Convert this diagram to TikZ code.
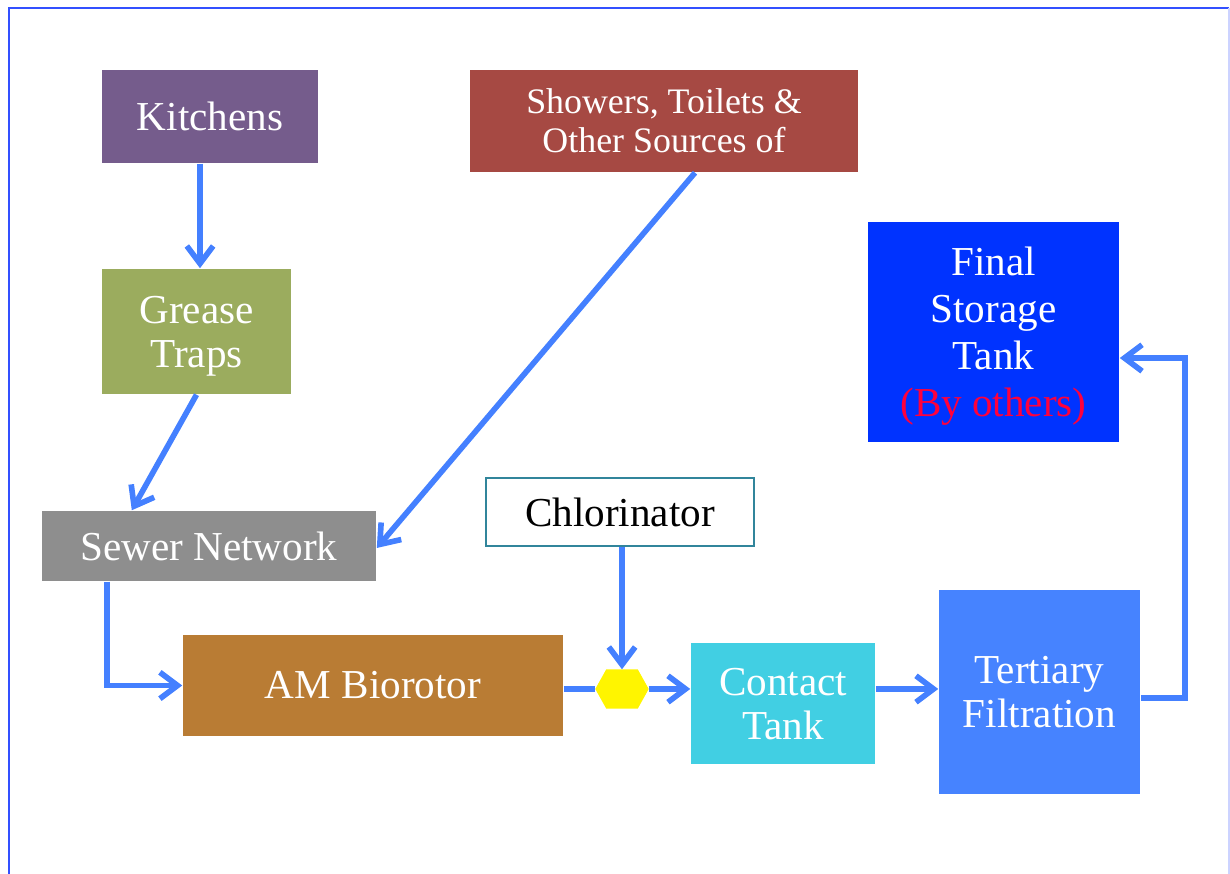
\documentclass[tikz,border=0pt]{standalone}
\usepackage{fontspec}
\setmainfont{Liberation Serif}
\definecolor{kitchenpurple}{RGB}{117, 92, 140}
\definecolor{greasegreen}{RGB}{155, 172, 94}
\definecolor{showerred}{RGB}{166, 73, 67}
\definecolor{storageblue}{RGB}{0, 51, 255}
\definecolor{sewergray}{RGB}{142, 142, 142}
\definecolor{rotorbrown}{RGB}{185, 124, 52}
\definecolor{contactcyan}{RGB}{65, 207, 227}
\definecolor{filterblue}{RGB}{70, 131, 255}
\definecolor{flowblue}{RGB}{68, 128, 255}
\definecolor{frameblue}{RGB}{50, 80, 255}
\definecolor{chlorteal}{RGB}{49, 133, 155}
\definecolor{othersred}{RGB}{255, 0, 60}
\definecolor{mixyellow}{RGB}{255, 245, 0}
\usetikzlibrary{arrows.meta, calc}

\begin{document}
\begin{tikzpicture}[x=0.01cm, y=-0.01cm,
    stage/.style={rectangle, inner sep=0pt, text=white, align=center,
                  font=\fontsize{11.7}{12.5}\selectfont},
    flow/.style={flowblue, line width=1.6pt,
                 -{Straight Barb[length=5pt, width=7.5pt]}},
    link/.style={flowblue, line width=1.6pt}]
  \useasboundingbox (0,0) rectangle (1230,874);
  % page frame
  \draw[frameblue, line width=0.7pt] (9,874) -- (9,8) -- (1229,8);
  \draw[frameblue!25, line width=0.5pt] (1229,8) -- (1229,874);

  % sources
  \node[stage, fill=kitchenpurple, minimum width=2.16cm, minimum height=0.93cm]
    (kitchens) at (210,116.5) {Kitchens};
  \node[stage, fill=greasegreen, minimum width=1.89cm, minimum height=1.25cm,
        text depth=0pt]
    (grease) at (196.5,331.5) {Grease\\Traps};
  \node[stage, fill=showerred, minimum width=3.88cm, minimum height=1.02cm,
        font=\fontsize{10.2}{11}\selectfont]
    (showers) at (664,121) {Showers, Toilets \&\\Other Sources of};
  \node[stage, fill=sewergray, minimum width=3.34cm, minimum height=0.70cm]
    (sewer) at (209,546) {Sewer Network};

  % treatment
  \node[stage, fill=white, draw=chlorteal, line width=0.5pt, text=black,
        minimum width=2.68cm, minimum height=0.68cm]
    (chlor) at (620,512) {Chlorinator};
  \node[stage, fill=rotorbrown, minimum width=3.80cm, minimum height=1.01cm]
    (biorotor) at (373,685.5) {AM Biorotor};
  \node[rectangle, inner sep=0pt, minimum width=0.52cm, minimum height=0.38cm]
    (mix) at (622,689) {};
  \node[stage, fill=contactcyan, minimum width=1.84cm, minimum height=1.21cm,
        text depth=0pt]
    (contact) at (783,703.5) {Contact\\Tank};
  \node[stage, fill=filterblue, minimum width=2.01cm, minimum height=2.04cm,
        text depth=0pt]
    (tertiary) at (1039.5,692) {Tertiary\\Filtration};
  \node[stage, fill=storageblue, minimum width=2.51cm, minimum height=2.20cm,
        text depth=0pt, font=\fontsize{11.7}{13.4}\selectfont]
    (final) at (993.5,332) {Final\\Storage\\Tank\\\textcolor{othersred}{(By others)}};

  % dosing point
  \fill[mixyellow] (mix.west) -- ($(mix.north west)+(11,0)$) -- ($(mix.north east)+(-11,0)$)
    -- (mix.east) -- ($(mix.south east)+(-11,0)$) -- ($(mix.south west)+(11,0)$) -- cycle;

  % flows
  \draw[flow] ([shift={(-10,0)}]kitchens.south) -- ([shift={(-10,0)}]kitchens.south |- grease.north);
  \draw[flow] (grease.south) -- ($(sewer.north west)!0.27!(sewer.north east)$);
  \draw[flow] ([shift={(31,0)}]showers.south) -- ([shift={(0,2)}]sewer.east);
  \draw[flow] ([shift={(66,0)}]sewer.south west) |- (biorotor.west);
  \draw[link] (biorotor.east |- mix) -- (mix.west);
  \draw[flow] (chlor.south -| mix) -- (mix.north);
  \draw[flow] (mix.east) -- (mix.east -| contact.west);
  \draw[flow] (contact.east |- mix) -- (tertiary.west |- mix);
  \draw[flow] ([shift={(0,6)}]tertiary.east) -- ++(44,0) |- ([shift={(0,26)}]final.east);
\end{tikzpicture}
\end{document}
